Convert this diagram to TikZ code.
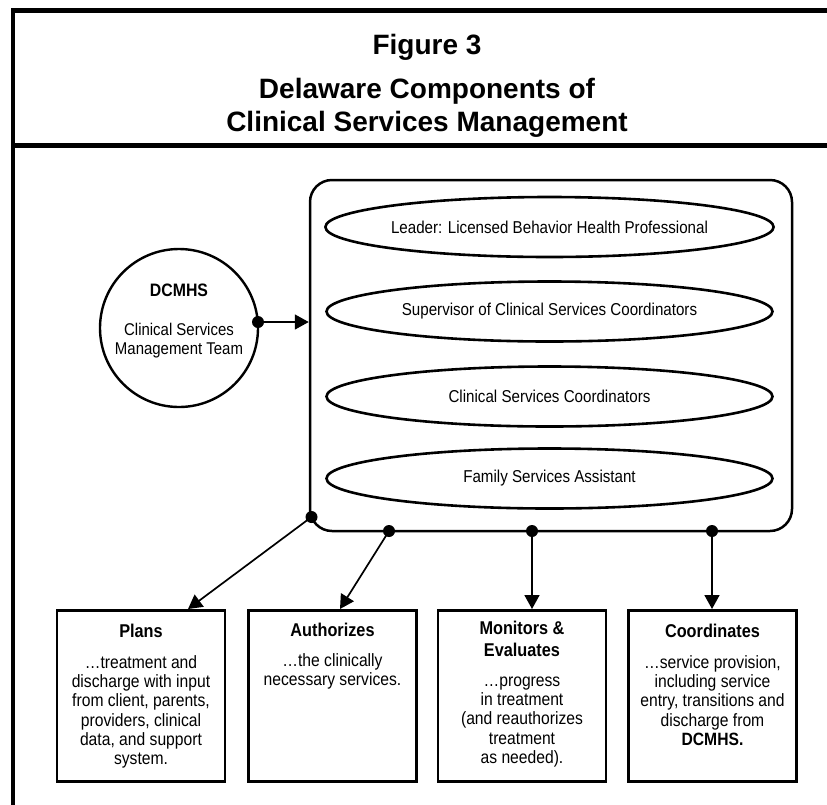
\documentclass[tikz,border=0pt]{standalone}
\usepackage{fontspec}
\setmainfont{Liberation Sans}
\newfontfamily\cond{Liberation Sans}[FakeStretch=0.88]
\usetikzlibrary{shapes.geometric,arrows.meta}

\begin{document}
\begin{tikzpicture}[x=1pt,y=-1pt,
  frameline/.style={line width=4.5pt},
  titlef/.style={font=\bfseries\fontsize{28}{32}\selectfont,anchor=base,inner sep=0pt},
  role/.style={draw,line width=2.6pt,ellipse,minimum width=446pt,minimum height=60pt,inner sep=0pt,font=\cond\fontsize{17.2}{19}\selectfont},
  taskbox/.style={draw,line width=2.6pt,rectangle,minimum width=168pt,minimum height=171pt,anchor=north,inner sep=0pt},
  head/.style={font=\cond\bfseries\fontsize{18.5}{22}\selectfont,align=center,inner sep=0pt,anchor=north},
  body/.style={font=\cond\fontsize{17.8}{19.3}\selectfont,align=center,inner sep=0pt,anchor=north},
  conn/.style={line width=1.7pt,-{Triangle[length=14pt,width=15pt]}},
  dotn/.style={circle,fill=black,inner sep=0pt,minimum size=12pt},
]
\useasboundingbox (0,0) rectangle (827,804);
\clip (0,0) rectangle (827,804);

% frame
\draw[frameline] (900,10.5) -- (13,10.5) -- (13,900);
\draw[frameline] (13,145.5) -- (900,145.5);

% title
\node[titlef] (t1) at (427,54) {Figure 3};
\node[titlef] (t2) at (427,98) {Delaware Components of};
\node[titlef] (t3) at (427,131) {Clinical Services Management};

% team box
\node[draw,line width=2.5pt,rectangle,rounded corners=22pt,minimum width=482pt,minimum height=351pt] (team) at (551,355.5) {};
\node[role] (r1) at (549.5,227) {Leader: Licensed Behavior Health Professional};
\node[role] (r2) at (549.5,311.5) {Supervisor of Clinical Services Coordinators};
\node[role] (r3) at (549.5,396.5) {Clinical Services Coordinators};
\node[role] (r4) at (549.5,478.5) {Family Services Assistant};

% DCMHS circle
\node[draw,circle,line width=2.4pt,minimum size=158pt] (dcmhs) at (179,328) {};
\node[font=\cond\bfseries\fontsize{18}{22}\selectfont,inner sep=0pt] (dcmhsT) at (179,290) {DCMHS};
\node[font=\cond\fontsize{17}{19}\selectfont,align=center,inner sep=0pt] (dcmhsB) at (179,341) {Clinical Services\\Management Team};

% task boxes
\node[taskbox] (plans) at (141,609) {};
\node[taskbox] (auth) at (332.5,609) {};
\node[taskbox] (mon) at (522,609) {};
\node[taskbox] (coord) at (712.5,609) {};

\node[head] (plansH) at (141,623) {\rule{0pt}{14pt}Plans};
\node[body] (plansB) at (141,654.5) {\rule{0pt}{13.5pt}…treatment and\\discharge with input\\from client, parents,\\providers, clinical\\data, and support\\system.};

\node[head] (authH) at (332.5,622) {\rule{0pt}{14pt}Authorizes};
\node[body] (authB) at (332.5,652.5) {\rule{0pt}{13.5pt}…the clinically\\necessary services.};

\node[head] (monH) at (522,620) {\rule{0pt}{14pt}Monitors \&\\Evaluates};
\node[body] (monB) at (522,672.5) {\rule{0pt}{13.5pt}…progress\\in treatment\\(and reauthorizes\\treatment\\as needed).};

\node[head] (coordH) at (712.5,623) {\rule{0pt}{14pt}Coordinates};
\node[body] (coordB) at (712.5,654.5) {\rule{0pt}{13.5pt}…service provision,\\including service\\entry, transitions and\\discharge from\\\textbf{DCMHS.}};

% dots
\node[dotn] (d0) at (258,322) {};
\node[dotn] (d1) at (311.5,517) {};
\node[dotn] (d2) at (389,531) {};
\node[dotn] (d3) at (532,531) {};
\node[dotn] (d4) at (712,531) {};

% connectors
\draw[conn] (d0.center) -- (d0.center -| team.west);
\draw[conn] (d1.center) -- ([xshift=47pt]plans.north);
\draw[conn] (d2.center) -- ([xshift=7.5pt]auth.north);
\draw[conn] (d3.center) -- (d3.center |- mon.north);
\draw[conn] (d4.center) -- (d4.center |- coord.north);
\end{tikzpicture}
\end{document}
